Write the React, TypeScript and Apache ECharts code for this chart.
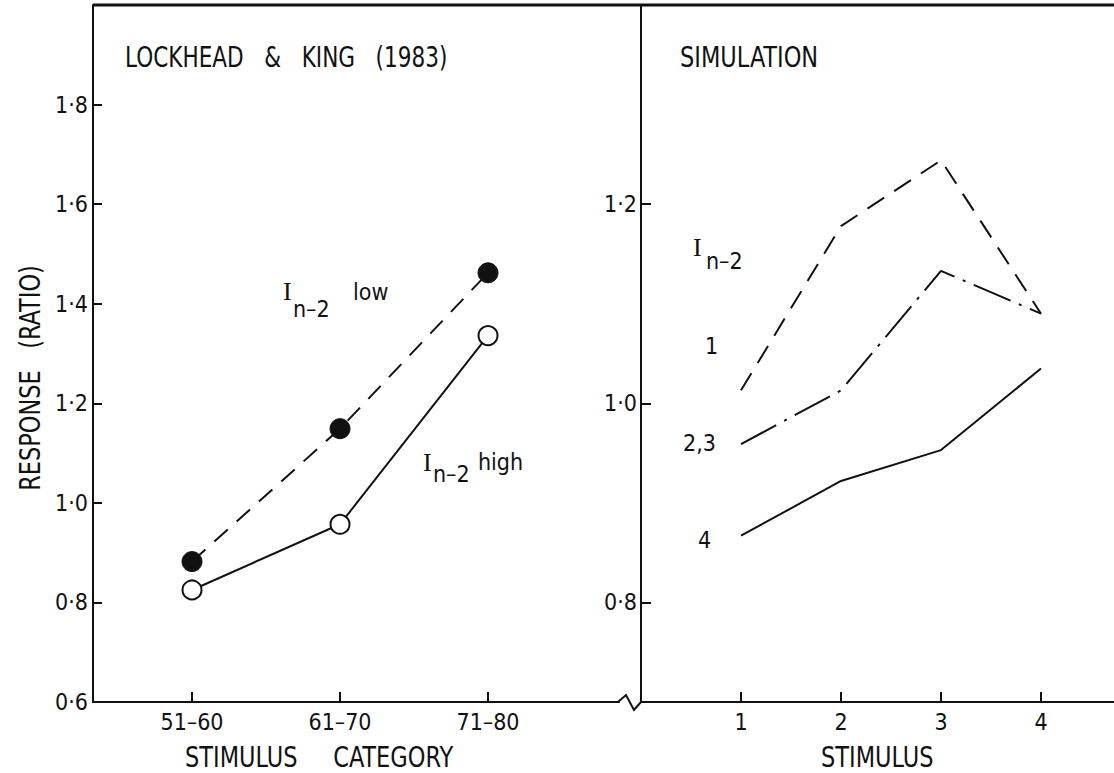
import React, { useEffect, useRef } from 'react';
import * as echarts from 'echarts';

// ---- data ----
const leftCategories = ['51–60', '61–70', '71–80'];
const lowSeries = [0.882, 1.149, 1.462];
const highSeries = [0.825, 0.957, 1.336];
const leftYTicks = [0.6, 0.8, 1.0, 1.2, 1.4, 1.6, 1.8];

const rightStimuli = [1, 2, 3, 4];
const sim1 = [1.013, 1.178, 1.244, 1.09];
const sim23 = [0.959, 1.013, 1.133, 1.09];
const sim4 = [0.867, 0.922, 0.953, 1.035];
const rightYTicks = [0.8, 1.0, 1.2];

const FONT = "'DejaVu Sans Condensed', 'DejaVu Sans', sans-serif";
const SERIF = "'Liberation Serif', 'DejaVu Serif', serif";
const INK = '#111';

const fmt = (v: number) => v.toFixed(1).replace('.', '·');

function txt(text: string, x: number, y: number, size = 22, extra: any = {}) {
  return {
    type: 'text',
    x,
    y,
    scaleY: extra.scaleY || 1,
    rotation: extra.rotation || 0,
    style: {
      text,
      fill: INK,
      font: `${size}px ${extra.family || FONT}`,
      align: extra.align || 'left',
      verticalAlign: 'middle',
    },
    silent: true,
  };
}

export default function App() {
  const ref = useRef<HTMLDivElement>(null);
  useEffect(() => {
    if (!ref.current) return;
    const chart = echarts.init(ref.current, null, { renderer: 'svg' });
    const axisLine = { show: true, onZero: false, lineStyle: { color: INK, width: 2 } };
    const tickStyle = { color: INK, width: 2 };
    const labelStyle = { color: INK, fontSize: 23, fontFamily: FONT };

    const option: any = {
      animation: false,
      backgroundColor: '#fff',
      grid: [
        { left: 93, top: 5, width: 526, height: 697 },
        { left: 641, top: 5, width: 473, height: 697 },
      ],
      xAxis: [
        {
          gridIndex: 0,
          type: 'value',
          min: -0.669,
          max: 2.885,
          axisLine,
          splitLine: { show: false },
          axisTick: { show: true, inside: true, length: 10, customValues: [0, 1, 2], lineStyle: tickStyle },
          axisLabel: {
            ...labelStyle,
            margin: 8,
            customValues: [0, 1, 2],
            formatter: (v: number) => leftCategories[Math.round(v)] ?? '',
          },
        },
        {
          gridIndex: 1,
          type: 'value',
          min: 0,
          max: 4.73,
          axisLine,
          splitLine: { show: false },
          axisTick: { show: true, inside: true, length: 10, customValues: rightStimuli, lineStyle: tickStyle },
          axisLabel: {
            ...labelStyle,
            margin: 8,
            customValues: rightStimuli,
            formatter: (v: number) => String(v),
          },
        },
      ],
      yAxis: [
        {
          gridIndex: 0,
          type: 'value',
          min: 0.6,
          max: 2.0,
          axisLine,
          splitLine: { show: false },
          axisTick: { show: true, inside: true, length: 9, customValues: leftYTicks, lineStyle: tickStyle },
          axisLabel: { ...labelStyle, margin: 5, customValues: leftYTicks, formatter: fmt },
        },
        {
          gridIndex: 1,
          type: 'value',
          min: 0.7,
          max: 1.4,
          axisLine,
          splitLine: { show: false },
          axisTick: { show: true, inside: true, length: 10, customValues: rightYTicks, lineStyle: tickStyle },
          axisLabel: { ...labelStyle, margin: 4, customValues: rightYTicks, formatter: fmt },
        },
      ],
      series: [
        {
          name: 'In-2 low',
          type: 'line',
          xAxisIndex: 0,
          yAxisIndex: 0,
          data: lowSeries.map((v, i) => [i, v]),
          lineStyle: { color: INK, width: 2, type: [18, 12] },
          symbol: 'circle',
          symbolSize: 20,
          itemStyle: { color: INK, borderColor: INK, borderWidth: 1 },
          z: 3,
        },
        {
          name: 'In-2 high',
          type: 'line',
          xAxisIndex: 0,
          yAxisIndex: 0,
          data: highSeries.map((v, i) => [i, v]),
          lineStyle: { color: INK, width: 2, type: 'solid' },
          symbol: 'circle',
          symbolSize: 19,
          itemStyle: { color: '#fff', borderColor: INK, borderWidth: 2 },
          z: 3,
        },
        {
          name: 'sim 1',
          type: 'line',
          xAxisIndex: 1,
          yAxisIndex: 1,
          data: sim1.map((v, i) => [rightStimuli[i], v]),
          lineStyle: { color: INK, width: 2, type: [20, 12] },
          symbol: 'none',
        },
        {
          name: 'sim 2,3',
          type: 'line',
          xAxisIndex: 1,
          yAxisIndex: 1,
          data: sim23.map((v, i) => [rightStimuli[i], v]),
          lineStyle: { color: INK, width: 2, type: [40, 9, 3, 9] },
          symbol: 'none',
        },
        {
          name: 'sim 4',
          type: 'line',
          xAxisIndex: 1,
          yAxisIndex: 1,
          data: sim4.map((v, i) => [rightStimuli[i], v]),
          lineStyle: { color: INK, width: 2, type: 'solid' },
          symbol: 'none',
        },
      ],
      graphic: [
        {
          type: 'line',
          shape: { x1: 93, y1: 5, x2: 1114, y2: 5 },
          style: { stroke: INK, lineWidth: 3 },
          silent: true,
        },
        {
          type: 'polyline',
          shape: { points: [[618, 702], [626, 695], [634, 710], [641, 702]] },
          style: { stroke: INK, lineWidth: 2, fill: 'none' },
          silent: true,
        },
        txt('LOCKHEAD   &   KING   (1983)', 125, 57, 24, { scaleY: 1.15 }),
        txt('SIMULATION', 680, 57, 25, { scaleY: 1.15 }),
        txt('STIMULUS     CATEGORY', 185, 757, 25, { scaleY: 1.12 }),
        txt('STIMULUS', 821, 757, 25, { scaleY: 1.12 }),
        txt('RESPONSE   (RATIO)', 30, 378, 25, { align: 'center', rotation: Math.PI / 2, scaleY: 1.12 }),
        // left annotations
        txt('I', 283, 291, 26, { family: SERIF }),
        txt('n–2', 293, 309, 23),
        txt('low', 353, 292, 23),
        txt('I', 423, 462, 26, { family: SERIF }),
        txt('n–2', 433, 474, 23),
        txt('high', 478, 462, 23),
        // right annotations
        txt('I', 693, 247, 26, { family: SERIF }),
        txt('n–2', 706, 261, 23),
        txt('1', 705, 346, 23),
        txt('2,3', 683, 443, 23),
        txt('4', 698, 540, 23),
      ],
    };
    chart.setOption(option);
    return () => chart.dispose();
  }, []);
  return (
    <div
      ref={ref}
      style={{ position: 'absolute', left: 0, top: 0, width: 1114, height: 773, background: '#fff' }}
    />
  );
}
